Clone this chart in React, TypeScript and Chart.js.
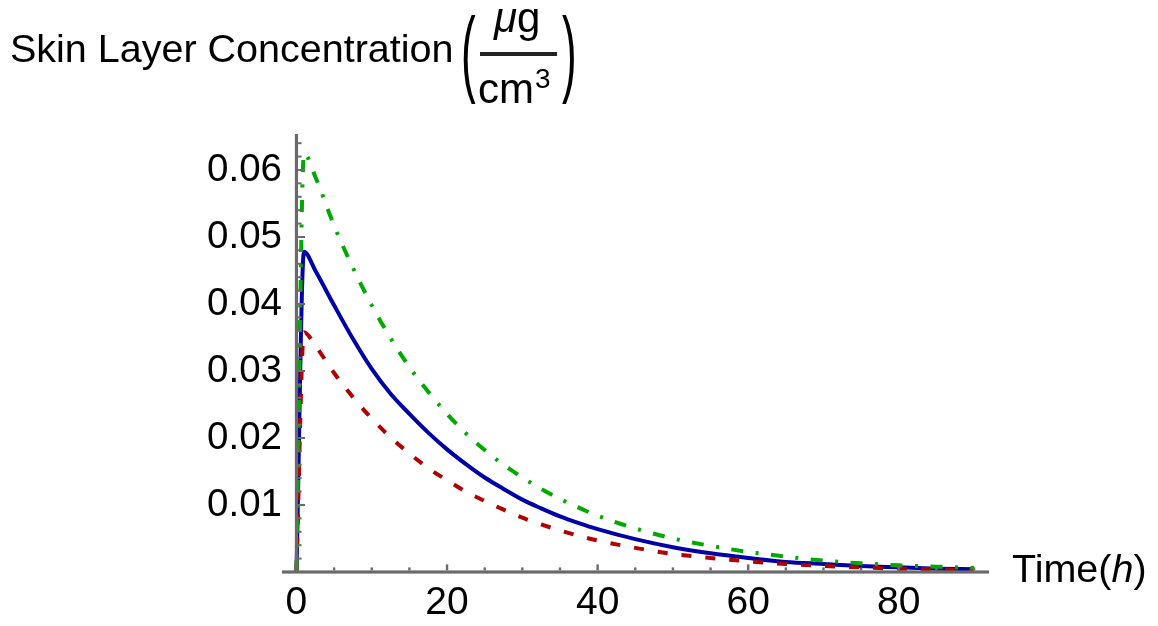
import React, { useEffect, useRef } from 'react';
import { Chart, registerables } from 'chart.js';

Chart.register(...registerables);

// ---- data ----
const timeHours = [0, 1, 2.5, 5, 7.5, 10, 12.5, 15, 17.5, 20, 22.5, 25, 27.5, 30, 32.5, 35, 37.5, 40, 45, 50, 55, 60, 65, 70, 75, 80, 85, 90];
const blueSeries = [0, 0.0478, 0.045, 0.0398, 0.0348, 0.0303, 0.0266, 0.0236, 0.0208, 0.0183, 0.0161, 0.0141, 0.0124, 0.0108, 0.0095, 0.0083, 0.0073, 0.0064, 0.0049, 0.0037, 0.0028, 0.0021, 0.0015, 0.0012, 0.0009, 0.0007, 0.0005, 0.0004];
const redSeries = [0, 0.0358, 0.0338, 0.0297, 0.0261, 0.0229, 0.0201, 0.0177, 0.0155, 0.0137, 0.012, 0.0106, 0.0093, 0.0081, 0.0071, 0.0062, 0.0054, 0.0047, 0.0036, 0.0027, 0.0021, 0.0016, 0.0012, 0.0009, 0.0007, 0.0005, 0.0004, 0.0003];
const greenSeries = [0, 0.0625, 0.059, 0.0517, 0.0454, 0.0398, 0.0349, 0.0306, 0.0269, 0.0236, 0.0207, 0.0182, 0.016, 0.0141, 0.0124, 0.0109, 0.0096, 0.0084, 0.0065, 0.005, 0.0039, 0.003, 0.0023, 0.0017, 0.0013, 0.001, 0.0008, 0.0006];
const xTickValues = [0, 20, 40, 60, 80];
const yTickValues = [0.01, 0.02, 0.03, 0.04, 0.05, 0.06];
const xMinorStep = 5;
const yMinorStep = 0.002;

const FONT = '"Liberation Sans", Arial, sans-serif';
const AXIS_COLOR = '#6a6a6a';

const toPoints = (ys: number[]) => ys.map((v, i) => ({ x: timeHours[i], y: v }));

const axesPlugin = {
  id: 'mmaAxes',
  afterDatasetsDraw(chart: any) {
    const { ctx, chartArea, scales } = chart;
    const xs = scales.x;
    const ys = scales.y;
    const x0 = xs.getPixelForValue(0);
    const y0 = ys.getPixelForValue(0);
    ctx.save();
    ctx.fillStyle = AXIS_COLOR;
    ctx.fillRect(chartArea.left, y0 - 1.6, chartArea.right - chartArea.left, 3.2);
    ctx.fillRect(x0 - 1.6, chartArea.top, 3.2, y0 - chartArea.top);
    const nx = Math.floor(xs.max / xMinorStep + 1e-9);
    for (let i = 1; i <= nx; i++) {
      const v = i * xMinorStep;
      const major = xTickValues.includes(v);
      const px = xs.getPixelForValue(v);
      const len = major ? 6 : 3;
      ctx.fillRect(px - 1.2, y0 - 1.6 - len, 2.4, len);
    }
    const ny = Math.floor(ys.max / yMinorStep + 1e-9);
    for (let i = 1; i <= ny; i++) {
      const v = i * yMinorStep;
      const major = i % 5 === 0;
      const py = ys.getPixelForValue(v);
      const len = major ? 7 : 3.5;
      ctx.fillRect(x0 + 1.6, py - 1, len, 2);
    }
    ctx.restore();
  },
};

const labelsPlugin = {
  id: 'mmaLabels',
  afterDraw(chart: any) {
    const { ctx } = chart;
    ctx.save();
    ctx.fillStyle = '#000';
    ctx.textBaseline = 'alphabetic';
    ctx.textAlign = 'left';
    // y-axis title
    ctx.font = `39.5px ${FONT}`;
    ctx.fillText('Skin Layer Concentration', 10, 62);
    // parentheses, stretched vertically
    const paren = (ch: string, px: number) => {
      ctx.save();
      ctx.translate(px, 84);
      ctx.scale(1, 2.15);
      ctx.font = `44px ${FONT}`;
      ctx.fillText(ch, 0, 0);
      ctx.restore();
    };
    paren('(', 461);
    paren(')', 562);
    // numerator
    ctx.font = `italic 42px ${FONT}`;
    ctx.fillText('μ', 494, 32);
    const muW = ctx.measureText('μ').width;
    ctx.font = `42px ${FONT}`;
    ctx.fillText('g', 494 + muW, 32);
    // fraction bar
    ctx.fillStyle = '#222';
    ctx.fillRect(480, 52, 77, 4);
    ctx.fillStyle = '#000';
    // denominator
    ctx.font = `42px ${FONT}`;
    ctx.fillText('cm', 478, 103);
    const cmW = ctx.measureText('cm').width;
    ctx.font = `28px ${FONT}`;
    ctx.fillText('3', 478 + cmW + 1, 88);
    // x-axis title
    ctx.font = `39.5px ${FONT}`;
    let tx = 1012;
    ctx.fillText('Time(', tx, 582);
    tx += ctx.measureText('Time(').width;
    ctx.font = `italic 39.5px ${FONT}`;
    ctx.fillText('h', tx, 582);
    tx += ctx.measureText('h').width;
    ctx.font = `39.5px ${FONT}`;
    ctx.fillText(')', tx, 582);
    ctx.restore();
  },
};

export default function App() {
  const canvasRef = useRef<HTMLCanvasElement | null>(null);

  useEffect(() => {
    const canvas = canvasRef.current;
    if (!canvas) return;
    const chart = new Chart(canvas, {
      type: 'line',
      data: {
        datasets: [
          {
            label: 'green',
            data: toPoints(greenSeries),
            borderColor: '#00a800',
            borderWidth: 4,
            borderDash: [12, 12.5, 3, 12.5],
            pointRadius: 0,
            cubicInterpolationMode: 'monotone',
            fill: false,
          },
          {
            label: 'red',
            data: toPoints(redSeries),
            borderColor: '#b00000',
            borderWidth: 4,
            borderDash: [10, 14],
            pointRadius: 0,
            cubicInterpolationMode: 'monotone',
            fill: false,
          },
          {
            label: 'blue',
            data: toPoints(blueSeries),
            borderColor: '#0000a8',
            borderWidth: 4,
            pointRadius: 0,
            cubicInterpolationMode: 'monotone',
            fill: false,
          },
        ],
      },
      options: {
        animation: false,
        responsive: false,
        devicePixelRatio: 1,
        events: [],
        layout: { padding: { top: 134, right: 169, left: 0, bottom: 0 } },
        plugins: { legend: { display: false }, tooltip: { enabled: false }, title: { display: false } },
        scales: {
          x: {
            type: 'linear',
            min: -1.92,
            max: 91.98,
            grid: { display: false, drawTicks: false },
            border: { display: false },
            afterBuildTicks: (s: any) => {
              s.ticks = xTickValues.map((v) => ({ value: v }));
            },
            afterFit: (s: any) => {
              s.height = 54;
            },
            ticks: {
              autoSkip: false,
              maxRotation: 0,
              padding: 8,
              color: '#000',
              font: { family: FONT, size: 39 },
              callback: (v: any) => String(v),
            },
          },
          y: {
            type: 'linear',
            min: 0,
            max: 0.06537,
            grid: { display: false, drawTicks: false },
            border: { display: false },
            afterBuildTicks: (s: any) => {
              s.ticks = yTickValues.map((v) => ({ value: v }));
            },
            afterFit: (s: any) => {
              s.width = 282;
            },
            ticks: {
              autoSkip: false,
              padding: 0,
              color: '#000',
              font: { family: FONT, size: 38.5 },
              callback: (v: any) => Number(v).toFixed(2),
            },
          },
        },
      },
      plugins: [axesPlugin, labelsPlugin],
    } as any);
    return () => chart.destroy();
  }, []);

  return (
    <div style={{ position: 'fixed', left: 0, top: 0, width: 1158, height: 626, background: '#fff' }}>
      <canvas ref={canvasRef} width={1158} height={626} style={{ display: 'block' }} />
    </div>
  );
}
